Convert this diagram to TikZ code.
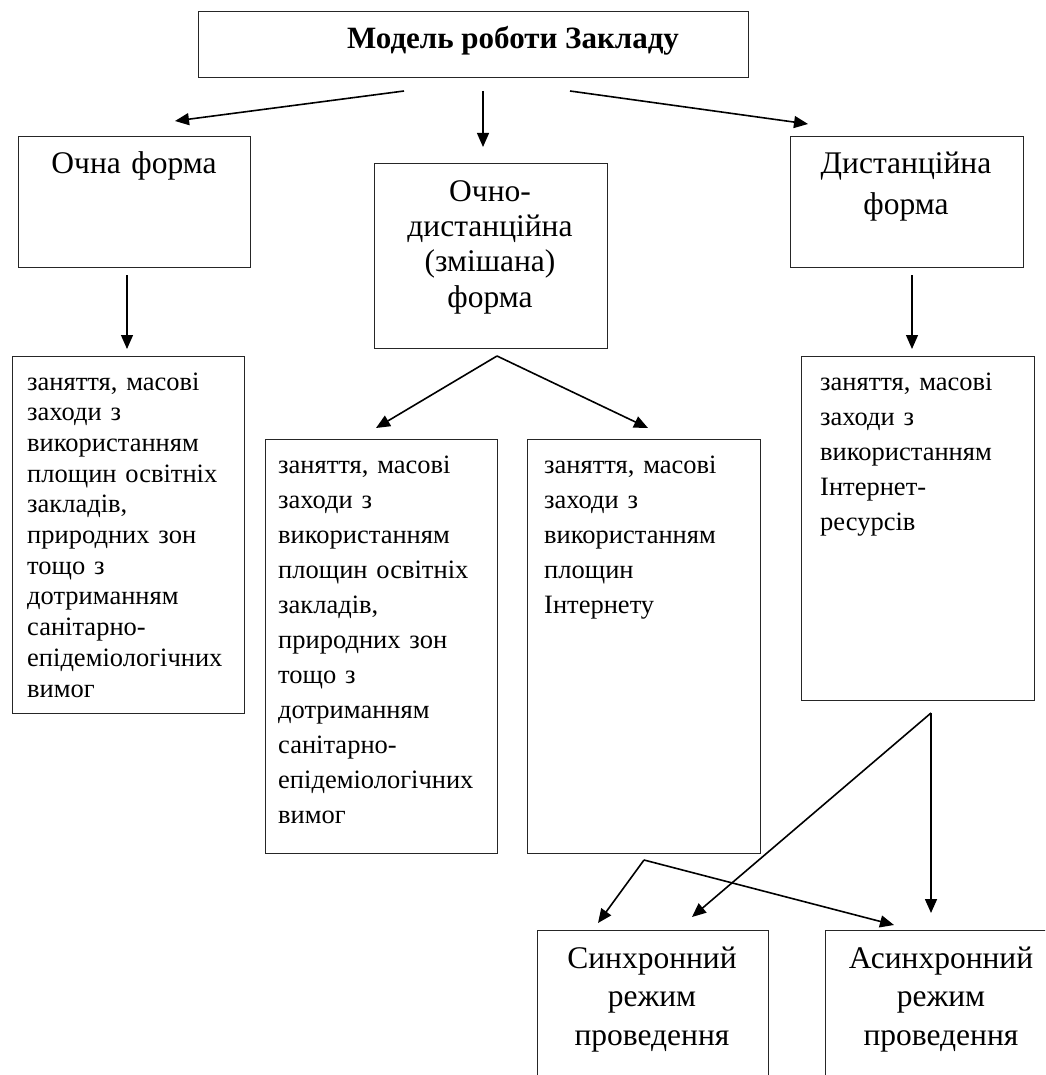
\documentclass[tikz,border=0pt]{standalone}
\usepackage{fontspec}
\setmainfont{Liberation Serif}
\usetikzlibrary{arrows.meta,positioning}

\begin{document}
\begin{tikzpicture}[x=1pt, y=-1pt,
    box/.style={draw=black!85, line width=1.4pt, anchor=north west, inner sep=0pt, minimum width=232pt},
    head/.style={font=\fontsize{31.5}{35}\selectfont, anchor=base, align=center, text width=230pt, inner sep=0pt},
    body/.style={font=\fontsize{26.5}{35}\selectfont, anchor=base west, align=left, text width=218pt, inner sep=0pt},
    arr/.style={-{Triangle[length=14pt,width=12pt]}, line width=1.6pt}]
    \useasboundingbox (0,0) rectangle (1045,1075);
    \clip (0,0) rectangle (1045,1075);

    % Define boxes
    \node[box, minimum width=550pt, minimum height=66pt] (M) at (198,11) {};
    \node[box, minimum height=131pt] (F1) at (18,136) {};
    \node[box, minimum width=233pt, minimum height=185pt] (F2) at (374,163) {};
    \node[box, minimum width=233pt, minimum height=131pt] (F3) at (790,136) {};

    \node[box, minimum height=357pt] (T1) at (12,356) {};
    \node[box, minimum height=414pt] (T2L) at (265,439) {};
    \node[box, minimum width=233pt, minimum height=414pt] (T2R) at (527,439) {};
    \node[box, minimum width=233pt, minimum height=344pt] (T3) at (801,356) {};

    \node[box, minimum width=231pt, minimum height=200pt] (R1) at (537,930) {};
    \node[box, minimum height=200pt] (R2) at (825,930) {};

    % Texts
    \node[anchor=base, inner sep=0pt, font=\fontsize{31}{35}\selectfont\bfseries] (Mt) at (513,49) {Модель роботи Закладу};
    \node[head] (F1t) at (134,174) {Очна форма};
    \node[head] (F2t) at (490,202) {Очно-\\дистанційна\\(змішана)\\форма};
    \node[head, font=\fontsize{31.5}{41}\selectfont] (F3t) at (906,174) {Дистанційна\\форма};

    \node[body, font=\fontsize{26.5}{30.7}\selectfont] (T1t) at (27,390) {заняття, масові\\заходи з\\використанням\\площин освітніх\\закладів,\\природних зон\\тощо з\\дотриманням\\санітарно-\\епідеміологічних\\вимог};
    \node[body] (T2Lt) at (278,473) {заняття, масові\\заходи з\\використанням\\площин освітніх\\закладів,\\природних зон\\тощо з\\дотриманням\\санітарно-\\епідеміологічних\\вимог};
    \node[body] (T2Rt) at (544,473) {заняття, масові\\заходи з\\використанням\\площин\\Інтернету};
    \node[body] (T3t) at (820,390) {заняття, масові\\заходи з\\використанням\\Інтернет-\\ресурсів};

    \node[head, font=\fontsize{31.5}{38.5}\selectfont] (R1t) at (652,968) {Синхронний\\режим\\проведення};
    \node[head, font=\fontsize{31.5}{38.5}\selectfont] (R2t) at (941,968) {Асинхронний\\режим\\проведення};

    % Arrow ends
    \coordinate (m1) at (404,91);  \coordinate (f1) at (175,121);
    \coordinate (m2) at (483,91);  \coordinate (f2) at (483,147);
    \coordinate (m3) at (570,91);  \coordinate (f3) at (808,124);
    \coordinate (o1) at (127,275); \coordinate (t1) at (127,349);
    \coordinate (d1) at (912,275); \coordinate (t3) at (912,349);
    \coordinate (x0) at (497,356); \coordinate (xl) at (376,428);
    \coordinate (xr) at (648,428);
    \coordinate (s0) at (931,713); \coordinate (sl) at (692,917);
    \coordinate (sr) at (931,913);
    \coordinate (a0) at (644,860); \coordinate (al) at (598,923);
    \coordinate (ar) at (894,925);

    % Draw arrows
    \draw[arr] (m1) -- (f1);
    \draw[arr, line width=1.2pt] (m2) -- (f2);
    \draw[arr] (m3) -- (f3);
    \draw[arr, line width=1.2pt] (o1) -- (t1);
    \draw[arr, line width=1.2pt] (d1) -- (t3);
    \draw[arr] (x0) -- (xl);
    \draw[arr] (x0) -- (xr);
    \draw[arr] (s0) -- (sl);
    \draw[arr] (s0) -- (sr);
    \draw[arr] (a0) -- (al);
    \draw[arr] (a0) -- (ar);

\end{tikzpicture}
\end{document}
